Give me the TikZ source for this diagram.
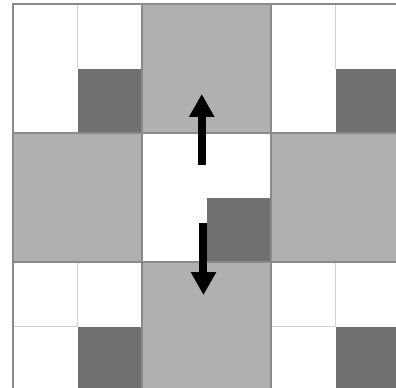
\documentclass[tikz,border=0pt]{standalone}
\usepackage{xcolor}
\definecolor{cellgray}{HTML}{B0B0B0}
\definecolor{celldark}{HTML}{707070}
\definecolor{gridline}{HTML}{D2D2D2}
\definecolor{blockline}{HTML}{8A8A8A}
\usetikzlibrary{arrows.meta}

\begin{document}
\begin{tikzpicture}[x=48.375pt,y=-48.375pt,
  pusharrow/.style={line width=6pt,-{Triangle[width=18pt,length=17.25pt]}}]
  \useasboundingbox (-0.2016,-0.062) rectangle (5.938,5.938);
  \fill[white] (-0.2016,-0.062) rectangle (5.938,5.938);
  \clip (-0.2016,-0.062) rectangle (5.938,5.938);
  % the four blocks next to the centre
  \foreach \bx/\by in {2/0,0/2,4/2,2/4} \fill[cellgray] (\bx,\by) rectangle ++(2,2);
  % corner blocks: thin lines between their cells
  \foreach \bx in {0,4} {
    \draw[gridline,line width=0.6pt] (\bx+1,0) -- ++(0,1);
    \draw[gridline,line width=0.6pt] (\bx+1,4) -- ++(0,1) -- ++(-1,0);
  }
  % dark cells
  \foreach \cx/\cy in {1/1,5/1,1/5,5/5,3/3} \fill[celldark] (\cx,\cy) rectangle ++(1,1);
  % block outlines
  \foreach \bx in {0,2,4} \foreach \by in {0,2,4}
    \draw[blockline,line width=0.8pt] (\bx,\by) rectangle ++(2,2);
  \fill[white] (2.02,2.02) rectangle (3,3.98);
  \fill[white] (3,2.02) rectangle (3.98,3);
  % arrows
  \coordinate (upstart) at (2.926,2.496);
  \coordinate (uptip) at (2.926,1.395);
  \coordinate (downstart) at (2.953,3.395);
  \coordinate (downtip) at (2.953,4.512);
  \draw[pusharrow] (upstart) -- (uptip);
  \draw[pusharrow] (downstart) -- (downtip);
\end{tikzpicture}
\end{document}
